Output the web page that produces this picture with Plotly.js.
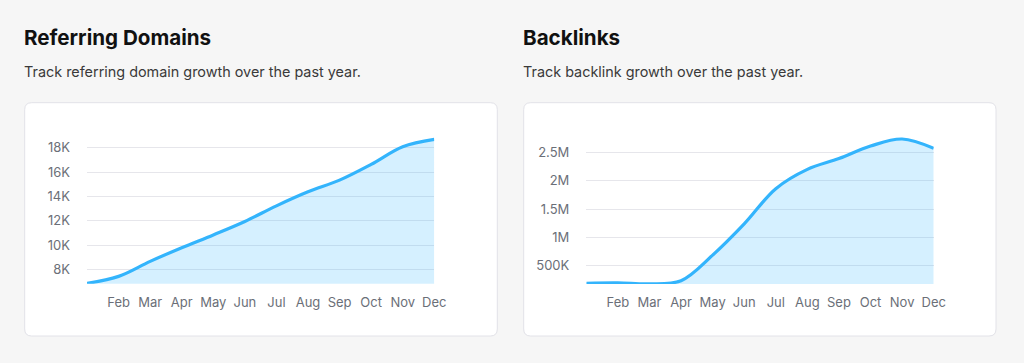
<!DOCTYPE html>
<html><head><meta charset="utf-8">
<script src="https://cdn.plot.ly/plotly-3.0.1.min.js"></script>
<style>html,body{margin:0;padding:0;background:#f6f6f6;}#chart{width:1024px;height:363px;}</style>
</head><body><div id="chart"></div>
<script>
const months = ['Jan','Feb','Mar','Apr','May','Jun','Jul','Aug','Sep','Oct','Nov','Dec'];
const tickMonths = ['Feb','Mar','Apr','May','Jun','Jul','Aug','Sep','Oct','Nov','Dec'];
const referringDomains = [6870, 7450, 8680, 9800, 10850, 11950, 13230, 14380, 15340, 16630, 18080, 18680];
const backlinks = [194000, 200000, 183000, 240000, 690000, 1240000, 1860000, 2200000, 2390000, 2610000, 2735000, 2570000];
const rdTicks = [8000, 10000, 12000, 14000, 16000, 18000];
const rdTickText = ['8K','10K','12K','14K','16K','18K'];
const blTicks = [500000, 1000000, 1500000, 2000000, 2500000];
const blTickText = ['500K','1M','1.5M','2M','2.5M'];

const W = 1024, H = 363;
const px = x => x / W;
const py = y => 1 - y / H;
const lineColor = '#33b4fc';
const fillColor = 'rgba(56,182,255,0.21)';
const font = 'Inter, "Noto Sans", sans-serif';

function trace(y, xa, ya) {
  return {x: months, y: y, xaxis: xa, yaxis: ya, type: 'scatter', mode: 'lines',
    line: {color: lineColor, width: 3.2, shape: 'spline', smoothing: 1},
    fill: 'tozeroy', fillcolor: fillColor, hoverinfo: 'skip', showlegend: false};
}
function xax(d0, d1, anchor) {
  return {domain: [px(d0), px(d1)], anchor: anchor, type: 'category', range: [0, 11],
    tickvals: tickMonths, ticktext: tickMonths, showgrid: false, zeroline: false,
    showline: false, ticks: '', ticklabelstandoff: 9,
    tickfont: {family: font, size: 13, color: '#6b6f78'}, fixedrange: true};
}
function yax(top, bottom, range, tv, tt, anchor) {
  return {domain: [py(bottom), py(top)], anchor: anchor, range: range, tickvals: tv, ticktext: tt,
    showgrid: true, gridcolor: '#e6e6eb', gridwidth: 1, zeroline: false, showline: false,
    ticks: '', ticklabelstandoff: 16, tickfont: {family: font, size: 13, color: '#6b6f78'}, fixedrange: true};
}
function card(x0, y0, x1, y1, r) {
  const X0 = px(x0), X1 = px(x1), Y0 = py(y0), Y1 = py(y1);
  const rx = r / W, ry = r / H;
  const path = `M ${X0+rx},${Y0} L ${X1-rx},${Y0} Q ${X1},${Y0} ${X1},${Y0-ry} L ${X1},${Y1+ry} Q ${X1},${Y1} ${X1-rx},${Y1} L ${X0+rx},${Y1} Q ${X0},${Y1} ${X0},${Y1+ry} L ${X0},${Y0-ry} Q ${X0},${Y0} ${X0+rx},${Y0} Z`;
  return {type: 'path', xref: 'paper', yref: 'paper', path: path, fillcolor: '#ffffff',
    line: {color: '#e2e2e8', width: 1}, layer: 'below'};
}
function text(x, y, t, size, color, weight) {
  return {xref: 'paper', yref: 'paper', x: px(x), y: py(y), xanchor: 'left', yanchor: 'middle',
    text: t, showarrow: false, font: {family: font, size: size, color: color, weight: weight}};
}

const data = [trace(referringDomains, 'x', 'y'), trace(backlinks, 'x2', 'y2')];
const layout = {
  width: W, height: H, margin: {l: 0, r: 0, t: 0, b: 0},
  paper_bgcolor: '#f6f6f6', plot_bgcolor: 'rgba(0,0,0,0)',
  xaxis: xax(87, 434.3, 'y'),
  yaxis: yax(136.7, 283.7, [6850, 18900], rdTicks, rdTickText, 'x'),
  xaxis2: xax(586.3, 933.7, 'y2'),
  yaxis2: yax(137.0, 283.9, [183000, 2770000], blTicks, blTickText, 'x2'),
  shapes: [card(24.7, 102.7, 497.3, 336, 7), card(523.7, 102.7, 996, 336, 7)],
  annotations: [
    text(22, 37, 'Referring Domains', 20.6, '#111111', 700),
    text(22, 72, 'Track referring domain growth over the past year.', 14.4, '#3a3a3a', 400),
    text(521, 37, 'Backlinks', 20.6, '#111111', 700),
    text(521, 72, 'Track backlink growth over the past year.', 14.4, '#3a3a3a', 400)
  ]
};
Plotly.newPlot('chart', data, layout, {displayModeBar: false, staticPlot: true});
</script></body></html>
